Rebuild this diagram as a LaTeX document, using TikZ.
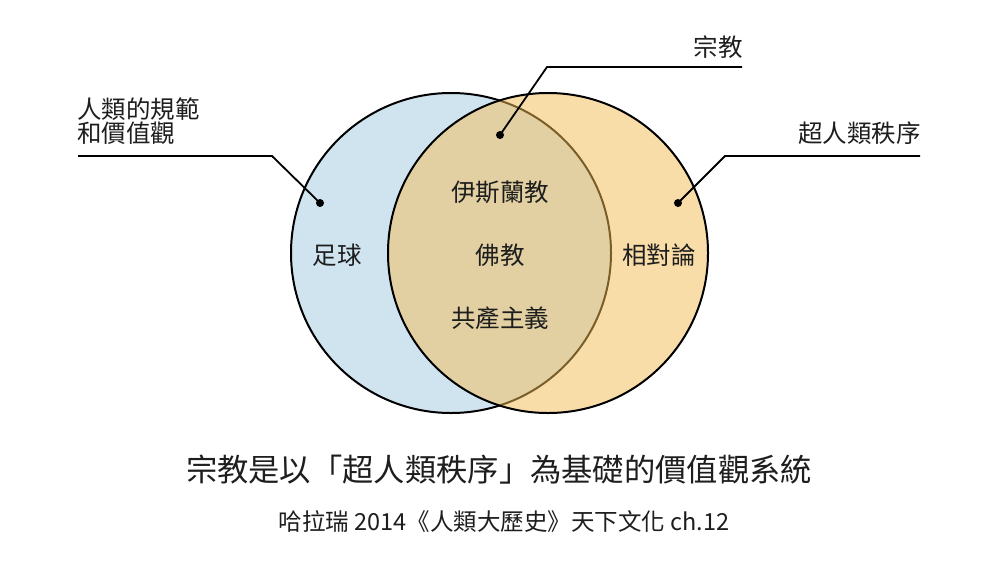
\documentclass[tikz,border=0pt]{standalone}
\usepackage{fontspec}
\setmainfont{Noto Sans CJK TC}
\definecolor{cblue}{RGB}{208,228,240}
\definecolor{corange}{RGB}{245,189,85}
\definecolor{ink}{RGB}{30,30,30}
\tikzset{
  setcirc/.style={circle, draw=black, line width=2pt, minimum size=320pt, inner sep=0pt},
  leader/.style={draw=black, line width=1.8pt},
  dotmark/.style={circle, fill=black, minimum size=8pt, inner sep=0pt},
  lbl/.style={text=ink, inner sep=0pt, font=\fontsize{24.5}{25}\selectfont},
  title/.style={text=ink, inner sep=0pt, font=\fontsize{31.3}{32}\selectfont},
  cite/.style={text=ink, inner sep=0pt, font=\fontsize{23.5}{24}\selectfont}
}
\begin{document}
\begin{tikzpicture}[x=1pt,y=-1pt]
\useasboundingbox (0,0) rectangle (1000,563);
\fill[white] (0,0) rectangle (1000,563);
% circles
\node[setcirc, fill=cblue] (L) at (451,253) {};
\node[setcirc, fill=corange, fill opacity=0.5] (R) at (548,253) {};
% dots
\node[dotmark] (dL) at (320,203) {};
\node[dotmark] (dM) at (500,135) {};
\node[dotmark] (dR) at (678,203) {};
% leader bends and ends
\coordinate (bL) at (272,156);
\coordinate (eL) at (78,156);
\coordinate (bM) at (547,67);
\coordinate (eM) at (742,67);
\coordinate (bR) at (725,156);
\coordinate (eR) at (920,156);
\draw[leader] (dL.center) -- (bL) -- (eL);
\draw[leader] (dM.center) -- (bM) -- (eM);
\draw[leader] (dR.center) -- (bR) -- (eR);
% outer labels
\node[lbl, anchor=west, align=left, font=\fontsize{24.5}{23.5}\selectfont] (tL) at (77,121) {人類的規範\\和價值觀};
\node[lbl, anchor=east] (tM) at (743,47) {宗教};
\node[lbl, anchor=east] (tR) at (921,133) {超人類秩序};
% inner labels
\node[lbl] (i1) at (500,192) {伊斯蘭教};
\node[lbl] (i2) at (500,255) {佛教};
\node[lbl] (i3) at (500,318) {共產主義};
\node[lbl] (a1) at (337,255) {足球};
\node[lbl] (a2) at (659,255) {相對論};
% bottom texts
\node[title] (ttl) at (499,470) {宗教是以「超人類秩序」為基礎的價值觀系統};
\node[cite] (cit) at (504,522) {哈拉瑞 2014《人類大歷史》天下文化 ch.12};
\end{tikzpicture}
\end{document}
